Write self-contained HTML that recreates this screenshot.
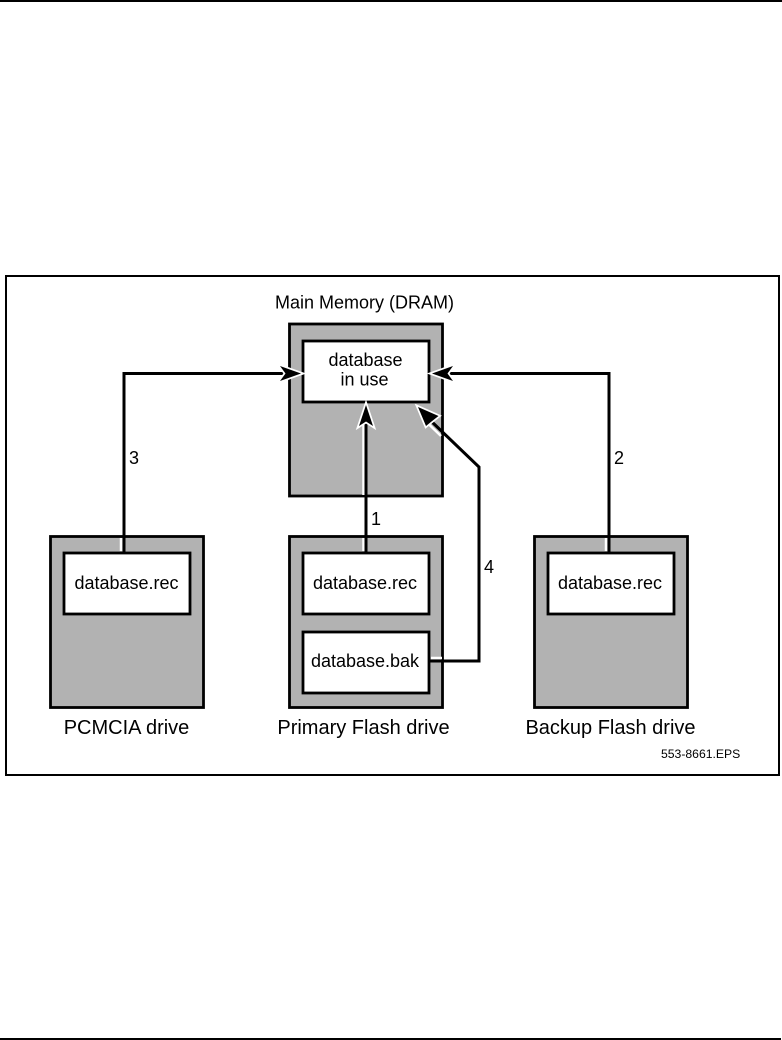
<!DOCTYPE html>
<html><head><meta charset="utf-8"><style>
html,body{margin:0;padding:0;background:#fff;width:782px;height:1040px;overflow:hidden}
svg{display:block}
text{font-family:"Liberation Sans",Arial,sans-serif;fill:#000;font-size:18px}
.l{font-size:20px}
</style></head><body>
<svg width="782" height="1040" viewBox="0 0 782 1040" xmlns="http://www.w3.org/2000/svg">
<rect x="0" y="0" width="782" height="2" fill="#000"/>
<rect x="0" y="1038" width="781" height="2" fill="#000"/>
<rect x="6" y="276" width="773" height="499" fill="#fff" stroke="#000" stroke-width="2"/>
<g fill="#b2b2b2" stroke="#000" stroke-width="2.800">
<rect x="289.500" y="324" width="153" height="172"/>
<rect x="50.500" y="536.500" width="153" height="171"/>
<rect x="289.500" y="536.500" width="153" height="171"/>
<rect x="534.500" y="536.500" width="153" height="171"/>
</g>
<g fill="#fff" stroke="#000" stroke-width="2.800">
<rect x="303" y="341" width="126" height="61"/>
<rect x="64" y="553" width="126" height="61"/>
<rect x="303" y="553" width="126" height="61"/>
<rect x="303" y="632" width="126" height="61"/>
<rect x="548" y="553" width="126" height="61"/>
</g>
<!-- white offset highlights -->
<g fill="none" stroke="#fff" stroke-width="2.500">
<path d="M121 551V538"/>
<path d="M606 551V538"/>
<path d="M363.500 551V538"/>
<path d="M363.500 495V424"/>
<path d="M431 658H442"/>
<path d="M441 436L428 423.500"/>
</g>
<!-- connectors -->
<g fill="none" stroke="#000" stroke-width="3">
<path d="M124 552V373.500H286"/>
<path d="M609 552V373.500H447"/>
<path d="M366 552V420"/>
<path d="M430 661H479V467L431 421"/>
</g>
<!-- arrowheads -->
<g fill="#000" stroke="#fff" stroke-width="3.500" stroke-linejoin="miter" style="paint-order:stroke">
<path d="M301 373.500L280 366L285.500 373.500L280 381Z"/>
<path d="M432 373.500L453 366L447.500 373.500L453 381Z"/>
<path d="M366 405L359 426L366 421.500L373 426Z"/>
<path d="M418 407L438.500 416L431.500 421.500L426 426Z"/>
</g>
<text x="275" y="308.500">Main Memory (DRAM)</text>
<text x="365.500" y="366" text-anchor="middle">database</text>
<text x="364.500" y="385.500" text-anchor="middle">in use</text>
<text x="126.500" y="589" text-anchor="middle">database.rec</text>
<text x="365" y="589" text-anchor="middle">database.rec</text>
<text x="365" y="667" text-anchor="middle">database.bak</text>
<text x="610" y="589" text-anchor="middle">database.rec</text>
<text class="l" x="126.500" y="734" text-anchor="middle">PCMCIA drive</text>
<text class="l" x="363.500" y="734" text-anchor="middle">Primary Flash drive</text>
<text class="l" x="610.500" y="734" text-anchor="middle">Backup Flash drive</text>
<text x="661" y="758" style="font-size:12.200px">553-8661.EPS</text>
<text x="129" y="464">3</text>
<text x="614" y="464">2</text>
<text x="371" y="525">1</text>
<text x="484" y="573">4</text>
</svg>
</body></html>
